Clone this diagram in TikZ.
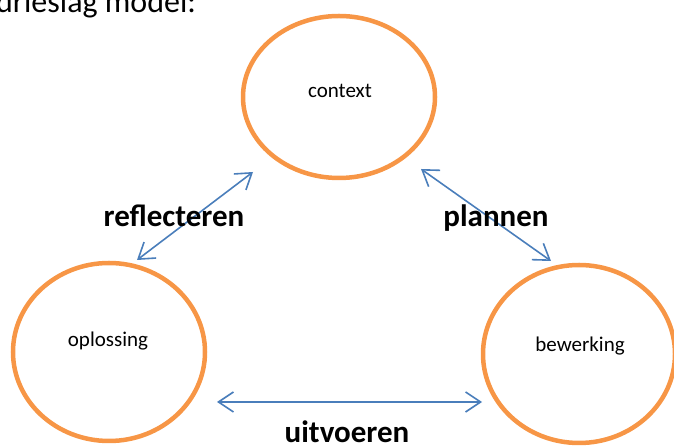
\documentclass[tikz,border=0pt]{standalone}
\usepackage{fontspec}
\setmainfont{Carlito}
\usetikzlibrary{shapes.geometric,arrows.meta}
\definecolor{ringorange}{HTML}{F79646}
\definecolor{arrowblue}{HTML}{4A7EBB}
\tikzset{
  ring/.style={ellipse, draw=ringorange, line width=4.5pt, inner sep=0pt},
  link/.style={draw=arrowblue, line width=1.6pt, {Straight Barb[length=15pt,width=20pt]}-{Straight Barb[length=15pt,width=20pt]}},
  phase/.style={font=\fontsize{31}{36}\selectfont\bfseries, anchor=base, inner sep=0pt},
  ringlabel/.style={font=\fontsize{21}{25}\selectfont, anchor=base, inner sep=0pt},
}
\begin{document}
\begin{tikzpicture}[x=1pt,y=1pt]
\useasboundingbox (0,0) rectangle (674,446);
\clip (0,0) rectangle (674,446);
\node[anchor=base west, inner sep=0pt, font=\fontsize{32}{38}\selectfont] (title) at (-4,433) {drieslag model:};
\node[ring, minimum width=192pt, minimum height=162pt] (ctx) at (339,349) {};
\node[ring, minimum width=192pt, minimum height=178pt] (opl) at (109,94) {};
\node[ring, minimum width=192pt, minimum height=178pt] (bew) at (579,92) {};
\node[ringlabel] (ctxt) at (340,348) {context};
\node[ringlabel] (oplt) at (108,99) {oplossing};
\node[ringlabel] (bewt) at (580,94) {bewerking};
\coordinate (r1) at (137,186);
\coordinate (r2) at (253,274);
\coordinate (p1) at (421,277);
\coordinate (p2) at (551,185);
\coordinate (u1) at (217,44);
\coordinate (u2) at (482,44);
\draw[link] (r1) -- (r2);
\draw[link] (p1) -- (p2);
\draw[link] (u1) -- (u2);
\node[phase] (refl) at (174,219) {reflecteren};
\node[phase] (plan) at (496,219) {plannen};
\node[phase] (uitv) at (347,3) {uitvoeren};
\end{tikzpicture}
\end{document}
